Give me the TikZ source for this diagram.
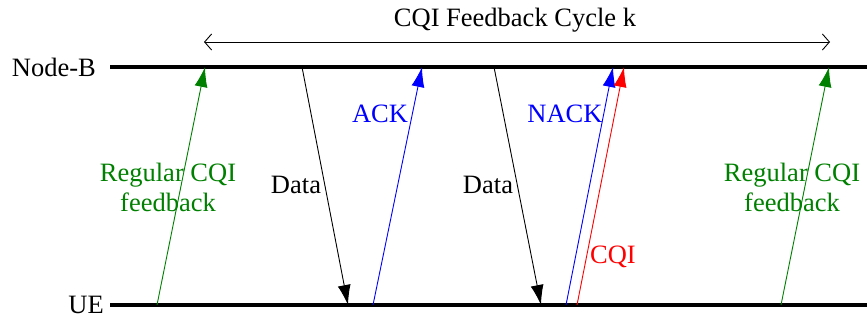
\documentclass[tikz,border=0pt]{standalone}
\usepackage{fontspec}
\setmainfont{Liberation Serif}
\usetikzlibrary{arrows.meta}
\definecolor{fbgreen}{RGB}{0,128,0}
\definecolor{fbblue}{RGB}{0,0,255}
\definecolor{fbred}{RGB}{255,0,0}
\tikzset{
  axis/.style={line width=4pt},
  msg/.style={line width=0.9pt,-{Latex[length=20pt,width=13pt]}},
  lbl/.style={font=\fontsize{26.5}{30}\selectfont,inner sep=0pt,align=center},
  cyc/.style={line width=0.9pt,{Straight Barb[length=7pt,width=16pt]}-{Straight Barb[length=7pt,width=16pt]}}
}
\begin{document}
\begin{tikzpicture}[x=1pt,y=-1pt]
\useasboundingbox (0,0) rectangle (867,320);
% axes
\coordinate (nbL) at (110,67); \coordinate (nbR) at (867,67);
\coordinate (ueL) at (110,305); \coordinate (ueR) at (867,305);
\draw[axis] (nbL) -- (nbR);
\draw[axis] (ueL) -- (ueR);
\node[lbl,anchor=east] (nb) at (96,67) {Node-B};
\node[lbl,anchor=east] (ue) at (104,305) {UE};
% cycle
\coordinate (cycL) at (204,42); \coordinate (cycR) at (830,42);
\draw[cyc] (cycL) -- (cycR);
\node[lbl] (cyct) at (515,20) {CQI Feedback Cycle k};
% endpoints
\coordinate (g1a) at (157,305); \coordinate (g1b) at (205,67);
\coordinate (d1a) at (302,67);  \coordinate (d1b) at (348,305);
\coordinate (a1a) at (373,305); \coordinate (a1b) at (422,67);
\coordinate (d2a) at (494,67);  \coordinate (d2b) at (541,305);
\coordinate (n1a) at (566,305); \coordinate (n1b) at (613,67);
\coordinate (c1a) at (577,305); \coordinate (c1b) at (624,67);
\coordinate (g2a) at (781,305); \coordinate (g2b) at (829,67);
% messages
\draw[msg,fbgreen] (g1a) -- (g1b);
\draw[msg,black] (d1a) -- (d1b);
\draw[msg,fbblue] (a1a) -- (a1b);
\draw[msg,black] (d2a) -- (d2b);
\draw[msg,fbblue] (n1a) -- (n1b);
\draw[msg,fbred] (c1a) -- (c1b);
\draw[msg,fbgreen] (g2a) -- (g2b);
% labels
\node[lbl,text=fbgreen] (g1t) at (168,187) {Regular CQI\\feedback};
\node[lbl] (d1t) at (296,185) {Data};
\node[lbl,text=fbblue] (a1t) at (380,114) {ACK};
\node[lbl] (d2t) at (488,185) {Data};
\node[lbl,text=fbblue] (n1t) at (565,114) {NACK};
\node[lbl,text=fbred] (c1t) at (613,257) {CQI};
\node[lbl,text=fbgreen] (g2t) at (792,187) {Regular CQI\\feedback};
\end{tikzpicture}
\end{document}
